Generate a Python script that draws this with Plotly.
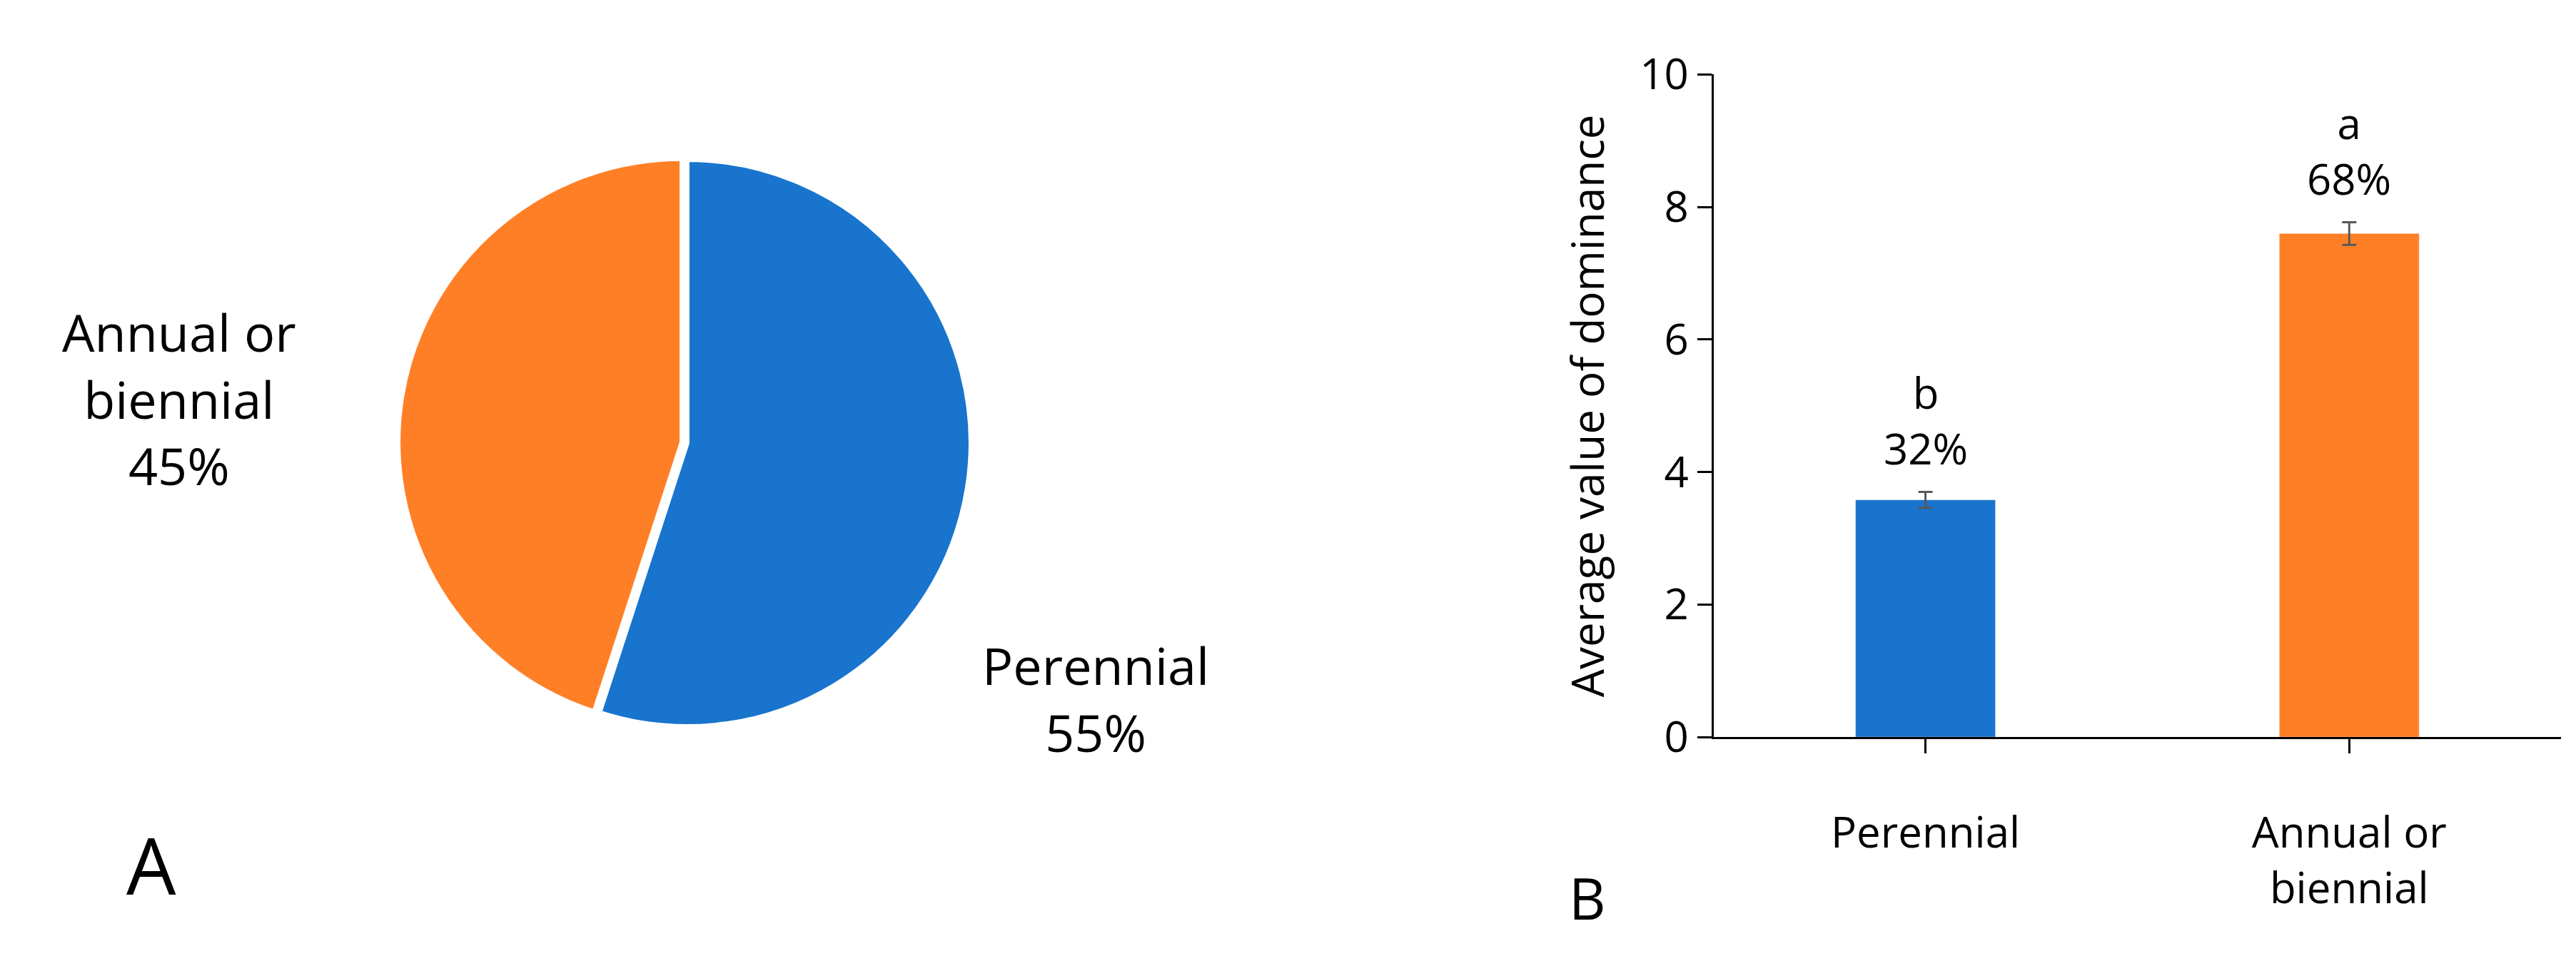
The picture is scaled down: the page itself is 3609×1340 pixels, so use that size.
import plotly.graph_objects as go

pie_labels = ["Perennial", "Annual or biennial"]
pie_values = [55, 45]
bar_cats = ["Perennial", "Annual or biennial"]
bar_ticktext = ["Perennial", "Annual or<br>biennial"]
bar_values = [3.58, 7.6]
bar_err = [0.12, 0.17]
bar_letters = ["b", "a"]
bar_pct = ["32%", "68%"]
colors = ["#1874CD", "#FF7F27"]
FONT = "Open Sans"

fig = go.Figure()
fig.add_trace(go.Pie(labels=pie_labels, values=pie_values, sort=False, direction="clockwise",
                     rotation=0, marker=dict(colors=colors, line=dict(color="white", width=6)),
                     pull=[0, 0.02], textinfo="none", hoverinfo="label+percent",
                     domain=dict(x=[0.1524, 0.3768], y=[0.2403, 0.8448]), showlegend=False))
fig.add_trace(go.Bar(x=bar_cats, y=bar_values, marker_color=colors, width=0.33,
                     error_y=dict(type="data", array=bar_err, color="#595959", thickness=3, width=10),
                     showlegend=False))
for c, v, e, l, p in zip(bar_cats, bar_values, bar_err, bar_letters, bar_pct):
    fig.add_annotation(x=c, y=v + e + 0.2, text=f"{l}<br>{p}", showarrow=False, yanchor="bottom",
                       xanchor="center", font=dict(size=60, family=FONT, color="black"))

def ann(x, y, text, size):
    fig.add_annotation(x=x/3609, y=1-y/1340, xref="paper", yref="paper", showarrow=False,
                       xanchor="center", yanchor="middle", text=text,
                       font=dict(size=size, family=FONT, color="black"))

ann(243, 550, "Annual or<br>biennial<br>45%", 72)
ann(1527, 971, "Perennial<br>55%", 72)
ann(204, 1203, "A", 110)
ann(2216, 1249, "B", 80)

fig.update_layout(
    width=3609, height=1340, margin=dict(l=0, r=0, t=0, b=0, autoexpand=False),
    paper_bgcolor="white", plot_bgcolor="white",
    font=dict(family=FONT, size=60, color="black"),
    xaxis=dict(domain=[0.663, 0.992], anchor="y", tickvals=bar_cats, ticktext=bar_ticktext,
               automargin=False,
               showline=True, linecolor="black", linewidth=3, ticks="outside", ticklen=20,
               tickwidth=3, tickcolor="black", ticklabelstandoff=60,
               tickfont=dict(size=60, family=FONT)),
    yaxis=dict(domain=[0.235, 0.928], anchor="x", range=[0, 10], dtick=2, showgrid=False,
               automargin=False,
               showline=True, linecolor="black", linewidth=3, ticks="outside", ticklen=20,
               tickwidth=3, tickcolor="black", zeroline=False,
               title=dict(text="Average value of dominance", font=dict(size=62, family=FONT), standoff=30),
               tickfont=dict(size=60, family=FONT)),
)
fig.write_html("out.html")
